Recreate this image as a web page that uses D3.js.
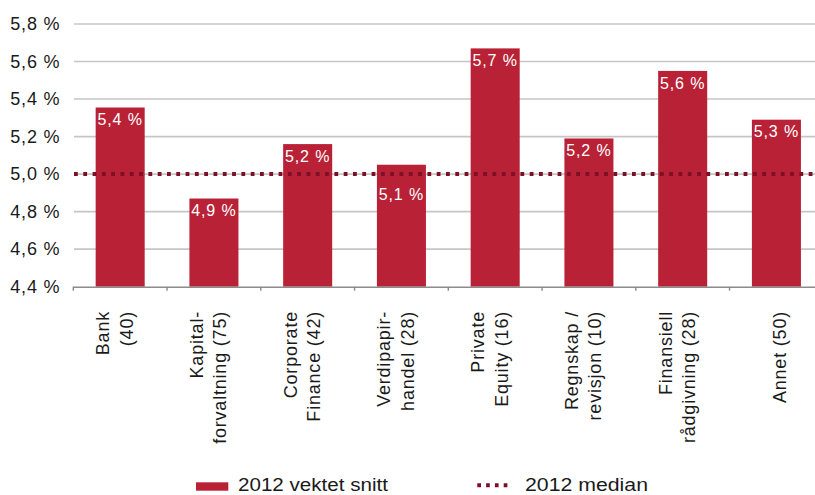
<!DOCTYPE html>
<html>
<head>
<meta charset="utf-8">
<script src="https://cdn.jsdelivr.net/npm/d3@7"></script>
<style>
  html, body { margin: 0; padding: 0; background: #fff; }
  svg { display: block; font-family: "Liberation Sans", Arial, sans-serif; }
</style>
</head>
<body>
<svg id="chart" width="815" height="495"></svg>
<script>
// Kategorier (antall respondenter i parentes), linjeskift som egne elementer
const categories = [
  ["Bank", "(40)"],
  ["Kapital-", "forvaltning (75)"],
  ["Corporate", "Finance (42)"],
  ["Verdipapir-", "handel (28)"],
  ["Private", "Equity (16)"],
  ["Regnskap /", "revisjon (10)"],
  ["Finansiell", "rådgivning (28)"],
  ["Annet (50)"]
];
// 2012 vektet snitt, prosent
const weightedAvg = [5.355, 4.87, 5.16, 5.05, 5.67, 5.19, 5.55, 5.29];
// 2012 median, prosent
const median = 5.0;
const yTicks = [4.4, 4.6, 4.8, 5.0, 5.2, 5.4, 5.6, 5.8];
const legendLabels = ["2012 vektet snitt", "2012 median"];

const barColor = "#b92236";
const medianColor = "#7d0f27";
const textColor = "#1a1a1a";

const svg = d3.select("#chart");
const plotLeft = 73.3, plotRight = 823.3, plotTop = 24, plotBottom = 286.7;

const fmt = v => (Math.round(v * 10 + 1e-9) / 10).toFixed(1).replace(".", ",") + " %";

const x = d3.scaleBand()
  .domain(d3.range(categories.length))
  .range([plotLeft, plotRight])
  .paddingInner(0.477)
  .paddingOuter(0.2385);

const y = d3.scaleLinear().domain([4.4, 5.8]).range([plotBottom, plotTop]);

// Horisontale rutenettlinjer
svg.append("g")
  .selectAll("line")
  .data(yTicks.slice(1))
  .join("line")
  .attr("x1", plotLeft + 0.7).attr("x2", 815)
  .attr("y1", d => y(d)).attr("y2", d => y(d))
  .attr("stroke", "#c6c6c6")
  .attr("stroke-width", 1.6);

// Y-akse etiketter
const yAxis = d3.axisLeft(y)
  .tickValues(yTicks)
  .tickSize(0)
  .tickPadding(13)
  .tickFormat(d => d.toFixed(1).replace(".", ",") + " %");

const gy = svg.append("g").attr("transform", `translate(${plotLeft},0)`).call(yAxis);
gy.select(".domain").remove();
gy.selectAll("text")
  .attr("font-size", 18)
  .attr("letter-spacing", 0.8)
  .attr("fill", textColor)
  .attr("font-family", "Liberation Sans, Arial, sans-serif");

// Søyler
svg.append("g")
  .selectAll("rect")
  .data(weightedAvg)
  .join("rect")
  .attr("x", (d, i) => x(i))
  .attr("width", x.bandwidth())
  .attr("y", d => y(d))
  .attr("height", d => y(4.4) - y(d))
  .attr("fill", barColor);

// Verdietiketter inne i søylene; flyttes under medianlinjen hvis de ville krysset den
const yMed = y(median);
const labelY = d => {
  const base = y(d) + 17.8;
  return (base - 13 < yMed + 2 && base + 2 > yMed - 2) ? yMed + 26 : base;
};
svg.append("g")
  .selectAll("text")
  .data(weightedAvg)
  .join("text")
  .attr("x", (d, i) => x(i) + x.bandwidth() / 2)
  .attr("y", d => labelY(d))
  .attr("text-anchor", "middle")
  .attr("font-size", 16)
  .attr("letter-spacing", 0.9)
  .attr("fill", "#ffffff")
  .text(d => fmt(d));

// Medianlinje
svg.append("line")
  .attr("x1", plotLeft + 0.7).attr("x2", 815)
  .attr("y1", yMed).attr("y2", yMed)
  .attr("stroke", medianColor)
  .attr("stroke-width", 4)
  .attr("stroke-dasharray", "3.8 5.5");

// X-akse med kategoriskiller
const xEdges = d3.range(categories.length + 1).map(i => plotLeft + i * x.step());
svg.append("line")
  .attr("x1", plotLeft).attr("x2", 815)
  .attr("y1", plotBottom + 0.5).attr("y2", plotBottom + 0.5)
  .attr("stroke", "#8c8c8c")
  .attr("stroke-width", 1.6);
svg.append("g")
  .selectAll("line")
  .data(xEdges.filter(v => v <= 815))
  .join("line")
  .attr("x1", d => d).attr("x2", d => d)
  .attr("y1", plotBottom).attr("y2", plotBottom + 4)
  .attr("stroke", "#8c8c8c")
  .attr("stroke-width", 1.4);

// Kategorietiketter, rotert
const catG = svg.append("g")
  .selectAll("g")
  .data(categories)
  .join("g")
  .attr("transform", (d, i) => `translate(${x(i) + x.bandwidth() / 2},311) rotate(-90)`);

catG.each(function (lines) {
  const offs = lines.length === 1 ? [10] : [-11, 12.5];
  d3.select(this).selectAll("text")
    .data(lines)
    .join("text")
    .attr("x", 0)
    .attr("y", (d, j) => offs[j])
    .attr("text-anchor", "end")
    .attr("font-size", 18)
    .attr("letter-spacing", 0.8)
    .attr("fill", textColor)
    .text(d => d);
});

// Tegnforklaring
const lg = svg.append("g");
lg.append("rect")
  .attr("x", 196).attr("y", 482.3)
  .attr("width", 32.3).attr("height", 8.4)
  .attr("fill", barColor);
lg.append("text")
  .attr("x", 238).attr("y", 490.7)
  .attr("font-size", 17.5)
  .attr("textLength", 150)
  .attr("lengthAdjust", "spacingAndGlyphs")
  .attr("fill", textColor)
  .text(legendLabels[0]);
lg.append("line")
  .attr("x1", 477.3).attr("x2", 508)
  .attr("y1", 485.3).attr("y2", 485.3)
  .attr("stroke", medianColor)
  .attr("stroke-width", 4)
  .attr("stroke-dasharray", "3.7 5.1");
lg.append("text")
  .attr("x", 525).attr("y", 490.7)
  .attr("font-size", 17.5)
  .attr("textLength", 123)
  .attr("lengthAdjust", "spacingAndGlyphs")
  .attr("fill", textColor)
  .text(legendLabels[1]);
</script>
</body>
</html>
